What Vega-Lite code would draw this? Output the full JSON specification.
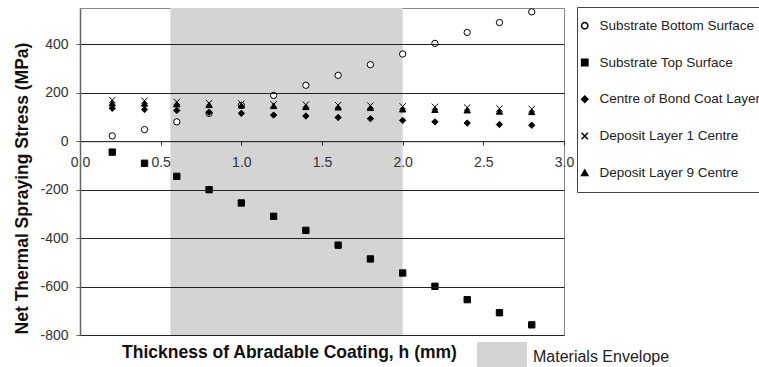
{
  "$schema": "https://vega.github.io/schema/vega-lite/v6.json",
  "width": 484,
  "height": 327,
  "autosize": "none",
  "padding": {"left": 80, "top": 8, "right": 195, "bottom": 32},
  "background": "white",
  "config": {"font": "Liberation Sans", "view": {"stroke": "#888", "strokeWidth": 1}},
  "layer": [
    {
      "data": {"values": [{"x0": 0.56, "x1": 2.0, "label": "Materials Envelope"}]},
      "mark": {"type": "rect"},
      "encoding": {
        "x": {
          "field": "x0", "type": "quantitative",
          "scale": {"domain": [0, 3], "nice": false},
          "axis": {
            "values": [0, 0.5, 1, 1.5, 2, 2.5, 3], "format": ".1f",
            "offset": -193.8, "labelFontSize": 14, "labelColor": "#333", "labelPadding": 10,
            "labelFlush": false, "labelOverlap": false,
            "tickSize": 4, "tickColor": "#333", "domainColor": "#333", "grid": false,
            "title": "Thickness of Abradable Coating, h (mm)", "titleFontSize": 17.5, "titleFontWeight": "bold",
            "titleColor": "#111", "titleX": 209, "titleY": 211, "titleAlign": "center", "titleBaseline": "middle",
            "zindex": 1
          }
        },
        "x2": {"field": "x1"},
        "color": {
          "field": "label", "type": "nominal",
          "scale": {"domain": ["Materials Envelope"], "range": ["#d4d4d4"]},
          "legend": {
            "orient": "none", "legendX": 397, "legendY": 324, "title": null, "padding": 0,
            "symbolType": "M-1,-0.6H1V0.6H-1Z", "symbolSize": 2500, "symbolStrokeWidth": 0,
            "labelFontSize": 16, "labelColor": "#222", "labelOffset": 6, "labelLimit": 300,
            "symbolFillColor": "#bdbdbd"
          }
        }
      }
    },
    {
      "data": {"values": [
        {"h": 0.2, "stress": 22, "series": "Substrate Bottom Surface"},
        {"h": 0.4, "stress": 48, "series": "Substrate Bottom Surface"},
        {"h": 0.6, "stress": 80, "series": "Substrate Bottom Surface"},
        {"h": 0.8, "stress": 115, "series": "Substrate Bottom Surface"},
        {"h": 1.0, "stress": 148, "series": "Substrate Bottom Surface"},
        {"h": 1.2, "stress": 189, "series": "Substrate Bottom Surface"},
        {"h": 1.4, "stress": 231, "series": "Substrate Bottom Surface"},
        {"h": 1.6, "stress": 272, "series": "Substrate Bottom Surface"},
        {"h": 1.8, "stress": 316, "series": "Substrate Bottom Surface"},
        {"h": 2.0, "stress": 360, "series": "Substrate Bottom Surface"},
        {"h": 2.2, "stress": 404, "series": "Substrate Bottom Surface"},
        {"h": 2.4, "stress": 449, "series": "Substrate Bottom Surface"},
        {"h": 2.6, "stress": 490, "series": "Substrate Bottom Surface"},
        {"h": 2.8, "stress": 534, "series": "Substrate Bottom Surface"},
        {"h": 0.2, "stress": -45, "series": "Substrate Top Surface"},
        {"h": 0.4, "stress": -91, "series": "Substrate Top Surface"},
        {"h": 0.6, "stress": -145, "series": "Substrate Top Surface"},
        {"h": 0.8, "stress": -200, "series": "Substrate Top Surface"},
        {"h": 1.0, "stress": -255, "series": "Substrate Top Surface"},
        {"h": 1.2, "stress": -310, "series": "Substrate Top Surface"},
        {"h": 1.4, "stress": -368, "series": "Substrate Top Surface"},
        {"h": 1.6, "stress": -429, "series": "Substrate Top Surface"},
        {"h": 1.8, "stress": -486, "series": "Substrate Top Surface"},
        {"h": 2.0, "stress": -544, "series": "Substrate Top Surface"},
        {"h": 2.2, "stress": -599, "series": "Substrate Top Surface"},
        {"h": 2.4, "stress": -654, "series": "Substrate Top Surface"},
        {"h": 2.6, "stress": -708, "series": "Substrate Top Surface"},
        {"h": 2.8, "stress": -758, "series": "Substrate Top Surface"},
        {"h": 0.2, "stress": 136, "series": "Centre of Bond Coat Layer"},
        {"h": 0.4, "stress": 131, "series": "Centre of Bond Coat Layer"},
        {"h": 0.6, "stress": 127, "series": "Centre of Bond Coat Layer"},
        {"h": 0.8, "stress": 119, "series": "Centre of Bond Coat Layer"},
        {"h": 1.0, "stress": 115, "series": "Centre of Bond Coat Layer"},
        {"h": 1.2, "stress": 108, "series": "Centre of Bond Coat Layer"},
        {"h": 1.4, "stress": 104, "series": "Centre of Bond Coat Layer"},
        {"h": 1.6, "stress": 98, "series": "Centre of Bond Coat Layer"},
        {"h": 1.8, "stress": 93, "series": "Centre of Bond Coat Layer"},
        {"h": 2.0, "stress": 86, "series": "Centre of Bond Coat Layer"},
        {"h": 2.2, "stress": 80, "series": "Centre of Bond Coat Layer"},
        {"h": 2.4, "stress": 75, "series": "Centre of Bond Coat Layer"},
        {"h": 2.6, "stress": 69, "series": "Centre of Bond Coat Layer"},
        {"h": 2.8, "stress": 66, "series": "Centre of Bond Coat Layer"},
        {"h": 0.2, "stress": 170, "series": "Deposit Layer 1 Centre"},
        {"h": 0.4, "stress": 167, "series": "Deposit Layer 1 Centre"},
        {"h": 0.6, "stress": 162, "series": "Deposit Layer 1 Centre"},
        {"h": 0.8, "stress": 157, "series": "Deposit Layer 1 Centre"},
        {"h": 1.0, "stress": 155, "series": "Deposit Layer 1 Centre"},
        {"h": 1.2, "stress": 152, "series": "Deposit Layer 1 Centre"},
        {"h": 1.4, "stress": 151, "series": "Deposit Layer 1 Centre"},
        {"h": 1.6, "stress": 149, "series": "Deposit Layer 1 Centre"},
        {"h": 1.8, "stress": 147, "series": "Deposit Layer 1 Centre"},
        {"h": 2.0, "stress": 144, "series": "Deposit Layer 1 Centre"},
        {"h": 2.2, "stress": 142, "series": "Deposit Layer 1 Centre"},
        {"h": 2.4, "stress": 139, "series": "Deposit Layer 1 Centre"},
        {"h": 2.6, "stress": 135, "series": "Deposit Layer 1 Centre"},
        {"h": 2.8, "stress": 133, "series": "Deposit Layer 1 Centre"},
        {"h": 0.2, "stress": 157, "series": "Deposit Layer 9 Centre"},
        {"h": 0.4, "stress": 156, "series": "Deposit Layer 9 Centre"},
        {"h": 0.6, "stress": 153, "series": "Deposit Layer 9 Centre"},
        {"h": 0.8, "stress": 150, "series": "Deposit Layer 9 Centre"},
        {"h": 1.0, "stress": 148, "series": "Deposit Layer 9 Centre"},
        {"h": 1.2, "stress": 146, "series": "Deposit Layer 9 Centre"},
        {"h": 1.4, "stress": 142, "series": "Deposit Layer 9 Centre"},
        {"h": 1.6, "stress": 140, "series": "Deposit Layer 9 Centre"},
        {"h": 1.8, "stress": 138, "series": "Deposit Layer 9 Centre"},
        {"h": 2.0, "stress": 132, "series": "Deposit Layer 9 Centre"},
        {"h": 2.2, "stress": 130, "series": "Deposit Layer 9 Centre"},
        {"h": 2.4, "stress": 128, "series": "Deposit Layer 9 Centre"},
        {"h": 2.6, "stress": 123, "series": "Deposit Layer 9 Centre"},
        {"h": 2.8, "stress": 121, "series": "Deposit Layer 9 Centre"}
      ]},
      "mark": {"type": "point", "filled": true, "stroke": "black", "strokeWidth": 1, "size": 40, "opacity": 1},
      "encoding": {
        "x": {"field": "h", "type": "quantitative"},
        "y": {
          "field": "stress", "type": "quantitative",
          "scale": {"domain": [-800, 550], "nice": false},
          "axis": {
            "values": [-800, -600, -400, -200, 0, 200, 400],
            "labelExpr": "datum.value + ''",
            "title": "Net Thermal Spraying Stress (MPa)", "titleFontSize": 17.5, "titleFontWeight": "bold",
            "titleColor": "#111", "titleX": -58, "titleY": 180, "titleAngle": -90,
            "titleAlign": "center", "titleBaseline": "middle",
            "labelFontSize": 14, "labelColor": "#333", "labelPadding": 8,
            "tickSize": 4, "tickColor": "#666", "domainColor": "#666", "domainWidth": 1.5,
            "grid": true, "gridColor": "#222", "gridWidth": 1, "zindex": 1
          }
        },
        "shape": {
          "field": "series", "type": "nominal",
          "scale": {
            "domain": ["Substrate Bottom Surface", "Substrate Top Surface", "Centre of Bond Coat Layer", "Deposit Layer 1 Centre", "Deposit Layer 9 Centre"],
            "range": ["circle", "square", "diamond", "M-1,-1L1,1M1,-1L-1,1", "triangle-up"]
          },
          "legend": {
            "orient": "none", "legendX": 497, "legendY": -1, "title": null,
            "strokeColor": "#444", "fillColor": "white", "padding": 12,
            "labelFontSize": 13.5, "labelColor": "#222", "rowPadding": 21.75, "symbolSize": 40,
            "symbolOffset": -11, "labelOffset": 8, "labelLimit": 300,
            "encode": {"symbols": {"update": {"stroke": {"value": "black"}, "strokeWidth": {"value": 1}}}}
          }
        },
        "fill": {
          "field": "series", "type": "nominal",
          "scale": {
            "domain": ["Substrate Bottom Surface", "Substrate Top Surface", "Centre of Bond Coat Layer", "Deposit Layer 1 Centre", "Deposit Layer 9 Centre"],
            "range": ["white", "black", "black", "black", "black"]
          },
          "legend": {
            "orient": "none", "legendX": 497, "legendY": -1, "title": null,
            "strokeColor": "#444", "fillColor": "white", "padding": 12,
            "labelFontSize": 13.5, "labelColor": "#222", "rowPadding": 21.75, "symbolSize": 40,
            "symbolOffset": -11, "labelOffset": 8, "labelLimit": 300,
            "encode": {"symbols": {"update": {"stroke": {"value": "black"}, "strokeWidth": {"value": 1}}}}
          }
        }
      }
    }
  ],
  "resolve": {"scale": {"color": "independent"}}
}
